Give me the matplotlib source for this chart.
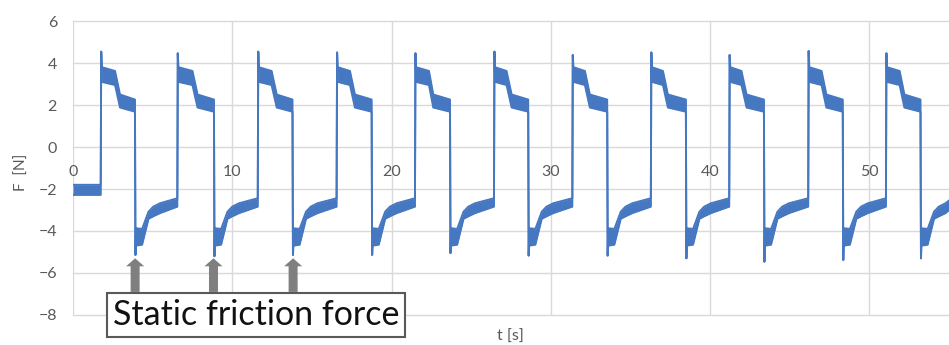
import matplotlib
matplotlib.use('Agg')
import matplotlib.pyplot as plt
from matplotlib.patches import FancyArrow

plt.rcParams['font.family'] = ['Lato', 'DejaVu Sans']

# ---------------- data ----------------
# time of each upward jump (s) and each downward jump (s)
rise_t = [1.74, 6.55, 11.60, 16.55, 21.47, 26.43, 31.35, 36.28, 41.20, 46.16, 51.04]
fall_t = [3.89, 8.85, 13.78, 18.75, 23.67, 28.58, 33.54, 38.48, 43.38, 48.33, 53.21]
# start / end of the step from the upper plateau to the middle plateau
step_a = [2.64, 7.50, 12.47, 17.39, 22.35, 27.22, 32.14, 37.04, 41.97, 47.00, 51.90]
step_b = [2.95, 7.82, 12.79, 17.70, 22.62, 27.54, 32.45, 37.35, 42.29, 47.30, 52.20]
# spike values (static friction peaks) per cycle
peak_F = [4.54, 4.46, 4.54, 4.50, 4.46, 4.54, 4.38, 4.50, 4.38, 4.57, 4.46]
trough_F = [-5.14, -5.20, -5.14, -5.14, -5.05, -5.17, -5.17, -5.30, -5.46, -5.38, -5.30]
# (upper, lower) edge of the noisy signal band
init_band = (-1.80, -2.28)
high_start = (3.80, 3.10)
high_end = (3.62, 2.95)
mid_start = (2.50, 1.88)
mid_end = (2.26, 1.68)
low_dt = [0.06, 0.45, 0.85, 1.15, 1.57]          # time after the fall (s)
low_upper = [-3.87, -3.90, -3.08, -2.84, -2.68]
low_lower = [-4.70, -4.65, -3.42, -3.30, -3.15]
low_end = (-2.44, -2.84)
last_band = (-2.55, -3.00)
t_end = 55.0

x_ticks = [0, 10, 20, 30, 40, 50]
y_ticks = [-8, -6, -4, -2, 0, 2, 4, 6]
arrow_t = [3.90, 8.82, 13.82]
arrow_tip, arrow_base = -5.30, -6.90
note_text = "Static friction force"
note_pos = (11.49, -8.0)

# ---------------- build the band outline ----------------
T, UP, LO = [0.0, rise_t[0]], [init_band[0]] * 2, [init_band[1]] * 2


def add(t, u, l):
    T.append(t); UP.append(u); LO.append(l)


n = len(rise_t)
for i in range(n):
    tr, tf = rise_t[i], fall_t[i]
    add(tr + 0.03, peak_F[i], peak_F[i])
    add(tr + 0.07, *high_start)
    add(step_a[i], *high_end)
    add(step_b[i], *mid_start)
    add(tf, *mid_end)
    add(tf + 0.03, trough_F[i], trough_F[i])
    for dt, u, l in zip(low_dt, low_upper, low_lower):
        if tf + dt < t_end:
            add(tf + dt, u, l)
    if i + 1 < n:
        add(rise_t[i + 1], *low_end)
    else:
        add(t_end, *last_band)

# ---------------- figure ----------------
fig = plt.figure(figsize=(9.49, 3.45), dpi=100)
ax = fig.add_axes([73 / 949, 30 / 345, 876 / 949, 294 / 345])

blue = '#4677c1'
ax.fill_between(T, LO, UP, color=blue, lw=0, zorder=3)
ax.plot(T, UP, color=blue, lw=1.4, zorder=3)
ax.plot(T, LO, color=blue, lw=1.4, zorder=3)

ax.set_xlim(0, t_end)
ax.set_ylim(-8, 6)
ax.set_xticks(x_ticks)
ax.set_yticks(y_ticks)
ax.set_yticklabels([str(v).replace('-', '\u2212') for v in y_ticks])

ax.grid(True, color='#d9d9d9', lw=1.0, zorder=0)
ax.set_axisbelow(True)
for ln in ax.get_xgridlines() + ax.get_ygridlines():
    ln.set_clip_on(False)

for s in ['top', 'right', 'left']:
    ax.spines[s].set_visible(False)
ax.spines['bottom'].set_position(('data', 0))
ax.spines['bottom'].set_visible(False)

ax.tick_params(axis='x', length=0, pad=13, labelsize=11.5, labelcolor='#595959')
ax.tick_params(axis='y', length=0, pad=11.5, labelsize=11.5, labelcolor='#595959')

ax.set_ylabel('F  [N]', fontsize=11, color='#595959')
ax.yaxis.label.set_va('center')
ax.yaxis.set_label_coords(-0.058, 0.486)
ax.set_xlabel('t [s]', fontsize=11.5, color='#595959')
ax.xaxis.set_label_coords(0.499, -0.052)

for xa in arrow_t:
    ax.add_patch(FancyArrow(xa, arrow_base, 0, arrow_tip - arrow_base,
                            width=0.565, head_width=1.13, head_length=0.38,
                            length_includes_head=True, color='#7f7f7f',
                            lw=0, zorder=5, clip_on=False))

ax.text(note_pos[0], note_pos[1], note_text, fontsize=24.5, color='#111111',
        ha='center', va='center', zorder=6, clip_on=False,
        bbox=dict(boxstyle='square,pad=0.18', fc='white', ec='#595959', lw=1.5))

fig.savefig('out.png', dpi=100)
